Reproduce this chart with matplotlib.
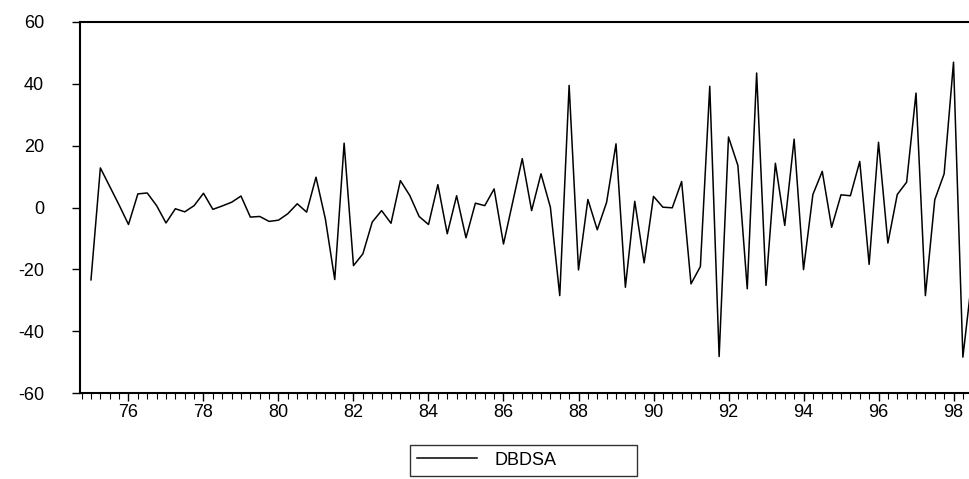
import numpy as np
import pandas as pd
import matplotlib
matplotlib.use('Agg')
import matplotlib.pyplot as plt
from matplotlib.ticker import MultipleLocator, FixedLocator

# 季度数据 1975Q1 起
start_year = 1975
dbdsa = [
    -23.4, 12.8, 6.8, 0.8, -5.5, 4.4, 4.7, 0.6, -5.0, -0.4, -1.4, 0.6,
    4.6, -0.6, 0.5, 1.7, 3.7, -3.1, -2.9, -4.5, -4.1, -2.0, 1.2, -1.5,
    9.8, -3.7, -23.3, 20.8, -18.8, -15.0, -4.7, -1.0, -5.1, 8.7, 3.9, -2.9,
    -5.5, 7.4, -8.5, 3.8, -9.8, 1.4, 0.6, 6.0, -11.8, 2.0, 15.8, -1.0,
    10.9, 0.1, -28.5, 39.5, -20.2, 2.6, -7.2, 1.7, 20.6, -25.8, 2.0, -17.9,
    3.6, 0.1, -0.1, 8.4, -24.7, -19.1, 39.2, -48.2, 22.8, 13.6, -26.3, 43.5,
    -25.2, 14.3, -5.8, 22.1, -20.1, 4.2, 11.7, -6.4, 4.1, 3.8, 14.9, -18.4,
    21.1, -11.5, 4.2, 8.2, 37.0, -28.5, 2.5, 10.9, 47.0, -48.4, -22.0,
]
t = start_year + np.arange(len(dbdsa)) / 4.0

year_ticks = np.arange(1976, 1999, 2)
year_labels = ['%02d' % (y % 100) for y in year_ticks]
y_ticks = [-60, -40, -20, 0, 20, 40, 60]

plt.rcParams['font.family'] = ['Liberation Sans', 'DejaVu Sans']

fig = plt.figure(figsize=(9.69, 4.79), dpi=100)
ax = fig.add_axes([80 / 969, 1 - 393 / 479, 1 - 80 / 969, (393 - 22) / 479])

ax.plot(t, dbdsa, color='black', linewidth=1.1, label='DBDSA')

ax.set_xlim(1974.707, 1998.413)
ax.set_ylim(-60, 60)
ax.xaxis.set_major_locator(FixedLocator(year_ticks))
ax.set_xticklabels(year_labels)
ax.xaxis.set_minor_locator(MultipleLocator(0.25))
ax.set_yticks(y_ticks)
ax.set_yticklabels([str(v) for v in y_ticks])

ax.tick_params(axis='x', which='major', direction='out', length=6, width=1, labelsize=13, pad=2)
ax.tick_params(axis='x', which='minor', direction='out', length=4, width=0.8)
ax.tick_params(axis='y', direction='out', length=6, width=1, labelsize=13, pad=20)

for side in ['left', 'top', 'bottom']:
    ax.spines[side].set_linewidth(1.5)
ax.spines['right'].set_visible(False)

fig.legend(loc='lower left', bbox_to_anchor=(410 / 969, 3 / 479, 227 / 969, 29 / 479),
           mode='expand', borderaxespad=0, frameon=True, fancybox=False,
           edgecolor='black', fontsize=13, handlelength=3.3, handletextpad=1.0,
           borderpad=0.4).get_frame().set_linewidth(1.0)

plt.savefig('out.png', dpi=100)
